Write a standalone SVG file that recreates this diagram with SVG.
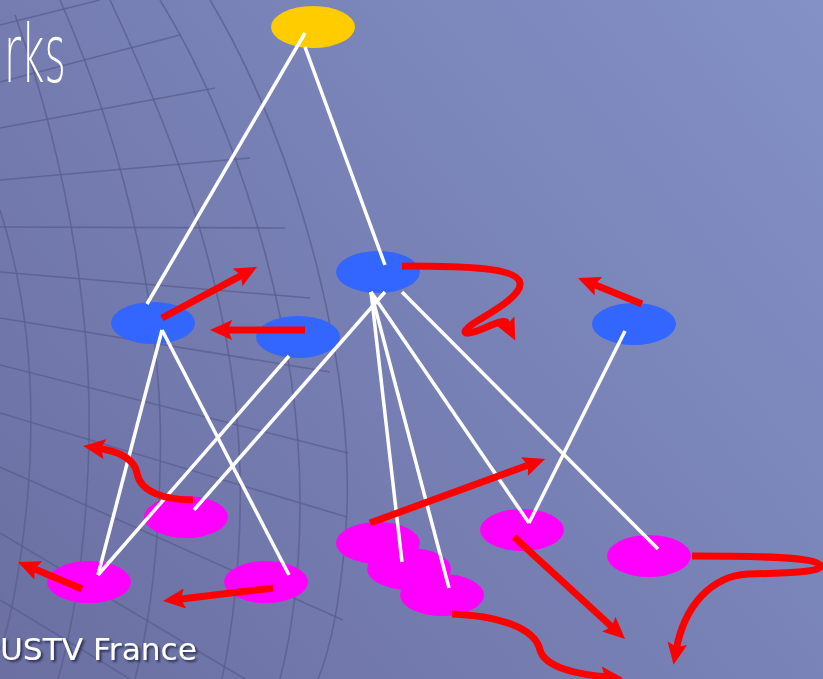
<svg xmlns="http://www.w3.org/2000/svg" width="823" height="679" viewBox="0 0 823 679">
<defs>
<linearGradient id="bg" x1="0" y1="679" x2="823" y2="0" gradientUnits="userSpaceOnUse">
<stop offset="0" stop-color="#6B6FA2"/>
<stop offset="1" stop-color="#8391C6"/>
</linearGradient>
<marker id="ah" markerWidth="22" markerHeight="20" refX="8" refY="10" orient="auto" markerUnits="userSpaceOnUse" viewBox="0 0 22 20">
<path d="M0,0 L22,10 L0,20 L4,10 Z" fill="#FF0000"/>
</marker>
<filter id="sh" x="-10%" y="-30%" width="130%" height="170%">
<feDropShadow dx="2" dy="2" stdDeviation="1.2" flood-color="#1E2040" flood-opacity="0.8"/>
</filter>
<style>
.grid path{fill:none;stroke:#5A5D8E;stroke-width:1.6;opacity:0.75}
.yel{fill:#FFCC00}
.blu{fill:#3366FF}
.mag{fill:#FF00FF}
.wl{stroke:#FFFFFF;stroke-width:3.5;fill:none}
.ra{stroke:#FF0000;stroke-width:7;fill:none;marker-end:url(#ah)}
</style>
</defs>
<rect width="823" height="679" fill="url(#bg)"/>
<g class="grid">
<path d="M0,25 L100,0"/>
<path d="M0,82 L180,35"/>
<path d="M0,128 L215,88"/>
<path d="M0,180 L250,158"/>
<path d="M0,227 L285,228"/>
<path d="M0,272 L310,298"/>
<path d="M0,318 L330,372"/>
<path d="M0,365 L348,453"/>
<path d="M0,413 L347,517"/>
<path d="M0,467 L343,620"/>
<path d="M0,533 L245,679"/>
<path d="M0,600 L130,679"/>
<path d="M210,0 C300,150 360,380 345,540 C340,600 330,650 318,679"/>
<path d="M160,0 C240,130 300,330 300,500 C300,580 290,640 280,679"/>
<path d="M110,0 C180,150 235,300 240,470 C242,560 232,630 222,679"/>
<path d="M60,0 C130,160 165,330 160,470 C158,560 148,630 135,679"/>
<path d="M15,15 C70,170 95,330 88,470 C84,560 72,630 58,679"/>
<path d="M0,210 C35,320 38,440 20,560 C14,600 8,630 0,650"/>
</g>
<text x="4" y="82" font-family="DejaVu Sans, sans-serif" font-weight="200" font-size="80" fill="#FFFFFF" textLength="62" lengthAdjust="spacingAndGlyphs">rks</text>
<text x="0" y="660" font-family="DejaVu Sans, sans-serif" font-size="30" fill="#FFFFFF" textLength="197" lengthAdjust="spacingAndGlyphs" filter="url(#sh)">USTV France</text>
<g id="n-top"><ellipse class="yel" cx="313" cy="27" rx="42" ry="21"/></g>
<g id="n-b1"><ellipse class="blu" cx="153" cy="323" rx="42" ry="21"/></g>
<g id="n-b2"><ellipse class="blu" cx="298" cy="337" rx="42" ry="21"/></g>
<g id="n-b3"><ellipse class="blu" cx="378" cy="272" rx="42" ry="21"/></g>
<g id="n-b4"><ellipse class="blu" cx="634" cy="324" rx="42" ry="21"/></g>
<g id="n-m1"><ellipse class="mag" cx="186" cy="517" rx="42" ry="21"/></g>
<g id="n-m2"><ellipse class="mag" cx="89" cy="582" rx="42" ry="21"/></g>
<g id="n-m3"><ellipse class="mag" cx="266" cy="582" rx="42" ry="21"/></g>
<g id="n-m4"><ellipse class="mag" cx="378" cy="543" rx="42" ry="21"/></g>
<g id="n-m5"><ellipse class="mag" cx="409" cy="569" rx="42" ry="21"/></g>
<g id="n-m6"><ellipse class="mag" cx="442" cy="595" rx="42" ry="21"/></g>
<g id="n-m7"><ellipse class="mag" cx="522" cy="530" rx="42" ry="21"/></g>
<g id="n-m8"><ellipse class="mag" cx="649" cy="556" rx="42" ry="21"/></g>
<g id="connectors">
<path class="wl" d="M305,33 L147,304"/>
<path class="wl" d="M305,47 L385,265"/>
<path class="wl" d="M162,330 L98,575"/>
<path class="wl" d="M162,330 L289,575"/>
<path class="wl" d="M289,356 L98,575"/>
<path class="wl" d="M385,292 L194,510"/>
<path class="wl" d="M371,292 L402,562"/>
<path class="wl" d="M371,292 L449,588"/>
<path class="wl" d="M371,292 L529,523"/>
<path class="wl" d="M402,292 L658,549"/>
<path class="wl" d="M625,331 L529,523"/>
<path class="ra" d="M162,318 L244.7,273.6"/>
<path class="ra" d="M305,330 L224,330"/>
<path class="ra" d="M82,589 L30.9,567.4"/>
<path class="ra" d="M273,588 L176.9,599.4"/>
<path class="ra" d="M642,304 L591,283.3"/>
<path class="ra" d="M370,523 L531.9,463.8"/>
<path class="ra" d="M514,537 L614.7,629.5"/>
<path class="ra" d="M193,500 C165,500 140,492 137,473 C134,458 118,451 97,448"/>
<path class="ra" d="M402,266 C470,266 518,268 520,283 C522,298 480,318 470,326 C458,336 470,334 482,329 C494,324 502,320 506,322 L509,328"/>
<path class="ra" d="M452,614 C500,616 535,628 540,650 C545,668 580,675 609,677"/>
<path class="ra" d="M692,556 C760,556 815,557 820,565 C824,572 790,573 748,574 C712,576 684,605 676,651"/>
</g>
</svg>
